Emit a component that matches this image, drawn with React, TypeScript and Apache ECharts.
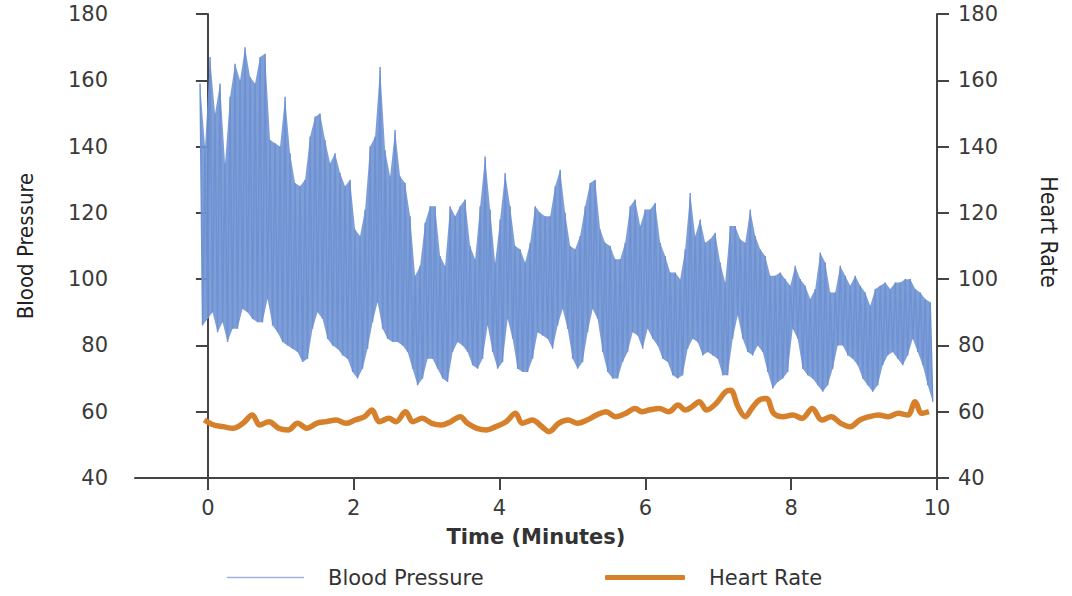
import React, { useEffect, useRef } from "react";
import * as echarts from "echarts";

// x-axis tick labels (minutes)
const xTickValues = [0, 2, 4, 6, 8, 10];

// Blood pressure: sampled every ~4 s, upper (systolic) and lower (diastolic) swing
const bpStart = -0.108;
const bpStep = 0.0686;
const bpHigh = [
  159, 140, 167, 150, 159, 135, 155, 165, 160, 170,
  161, 159, 167, 168, 142, 141, 140, 155, 138, 129,
  128, 130, 143, 149, 150, 142, 135, 138, 132, 128,
  130, 115, 113, 121, 140, 143, 164, 139, 131, 145,
  131, 129, 119, 101, 104, 117, 122, 122, 107, 104,
  122, 119, 122, 124, 110, 106, 122, 137, 121, 105,
  118, 132, 122, 110, 109, 105, 111, 122, 120, 119,
  119, 128, 133, 120, 110, 109, 113, 122, 129, 130,
  115, 111, 110, 106, 106, 111, 122, 124, 116, 121,
  121, 123, 111, 107, 102, 102, 100, 109, 126, 113,
  118, 111, 112, 114, 105, 99, 116, 116, 112, 111,
  121, 113, 109, 107, 101, 101, 102, 100, 98, 104,
  100, 98, 94, 97, 108, 105, 96, 96, 104, 101,
  98, 101, 98, 96, 92, 97, 98, 99, 97, 99,
  99, 100, 100, 97, 96, 94, 93,
];
const bpLow = [
  86, 88, 90, 84, 87, 81, 85, 85, 91, 90,
  88, 87, 87, 94, 86, 84, 81, 80, 79, 78,
  75, 76, 85, 90, 88, 82, 80, 79, 77, 76,
  72, 70, 73, 79, 87, 93, 85, 82, 81, 81,
  80, 78, 73, 68, 70, 76, 76, 73, 70, 69,
  78, 81, 80, 78, 74, 73, 76, 86, 78, 73,
  75, 88, 82, 73, 72, 72, 76, 84, 83, 82,
  79, 86, 91, 85, 76, 73, 75, 84, 91, 88,
  78, 72, 70, 70, 75, 78, 84, 83, 79, 85,
  82, 80, 76, 75, 71, 70, 71, 79, 82, 81,
  77, 78, 77, 76, 71, 71, 82, 89, 82, 78,
  77, 80, 78, 72, 67, 69, 70, 72, 85, 82,
  73, 71, 70, 68, 66, 68, 73, 80, 80, 77,
  76, 74, 70, 68, 66, 68, 74, 77, 78, 76,
  74, 77, 82, 78, 74, 68, 63,
];

// Heart rate
const hrTime = [
  -0.05, 0.08, 0.21, 0.34, 0.48, 0.61, 0.71, 0.84, 0.97, 1.1,
  1.23, 1.36, 1.49, 1.62, 1.76, 1.89, 2.02, 2.15, 2.25, 2.35,
  2.48, 2.58, 2.71, 2.81, 2.94, 3.07, 3.2, 3.33, 3.46, 3.56,
  3.69, 3.82, 3.95, 4.09, 4.22, 4.31, 4.45, 4.58, 4.68, 4.81,
  4.94, 5.07, 5.2, 5.33, 5.46, 5.59, 5.73, 5.86, 5.95, 6.05,
  6.19, 6.32, 6.45, 6.55, 6.64, 6.74, 6.84, 6.97, 7.1, 7.17,
  7.27, 7.37, 7.46, 7.56, 7.66, 7.76, 7.89, 8.02, 8.15, 8.29,
  8.42, 8.55, 8.68, 8.81, 8.94, 9.07, 9.2, 9.33, 9.47, 9.6,
  9.7, 9.79, 9.89,
];
const hrValue = [
  57.5, 56, 55.5, 55, 56.5, 59, 56, 57, 55, 54.5,
  56.5, 55, 56.5, 57, 57.5, 56.5, 57.5, 58.5, 60.5, 57,
  58, 57, 60, 57, 58, 56.5, 56, 57, 58.5, 56.5,
  55, 54.5, 55.5, 57, 59.5, 56.5, 57.5, 55.5, 54, 56.5,
  57.5, 56.5, 57.5, 59, 60, 58.5, 59.5, 61, 60, 60.5,
  61, 60, 62, 60.5, 61.5, 63, 60.5, 62.5, 66, 66.5,
  61.5, 58.5, 61, 63.5, 64, 59.5, 58.5, 59, 58, 61,
  57.5, 58.5, 56.5, 55.5, 57.5, 58.5, 59, 58.5, 59.5, 59,
  63, 59.5, 60,
];

const BP_COLOR = "#6d91d2";
const BP_BAND_COLOR = "#7094d3";
const BP_LEGEND_COLOR = "#9db5df";
const HR_COLOR = "#d6802c";
const AXIS_COLOR = "#444444";
const LABEL_COLOR = "#3a3a3a";
const TICK_FONT = "'DejaVu Sans', sans-serif";
const NARROW_FONT = "'Liberation Sans Narrow', 'DejaVu Sans Condensed', sans-serif";

export default function App() {
  const ref = useRef<HTMLDivElement>(null);

  useEffect(() => {
    if (!ref.current) return;
    const chart = echarts.init(ref.current, null, { renderer: "svg" });

    const bpTimes = bpHigh.map((_, i) => bpStart + i * bpStep);
    const bpZigzag: number[][] = [];
    bpHigh.forEach((h, i) => {
      bpZigzag.push([bpTimes[i], h]);
      bpZigzag.push([bpTimes[i] + bpStep / 2, bpLow[i]]);
    });
    const bpBandData = bpTimes.map((t, i) => [t, bpLow[i], bpHigh[i]]);
    const hrData = hrTime.map((t, i) => [t, hrValue[i]]);

    const yAxisCommon = {
      type: "value" as const,
      min: 40,
      max: 180,
      interval: 20,
      splitLine: { show: false },
      axisLine: { show: true, lineStyle: { color: AXIS_COLOR, width: 2 } },
      axisTick: { show: true, length: 12, lineStyle: { color: AXIS_COLOR, width: 2 } },
      nameLocation: "middle" as const,
    };

    chart.setOption({
      animation: false,
      backgroundColor: "#ffffff",
      grid: { left: 135, right: 135, top: 14, bottom: 118, containLabel: false },
      legend: [
        {
          left: 222,
          top: 562,
          icon: "rect",
          itemWidth: 77,
          itemHeight: 1.5,
          data: [{ name: "Blood Pressure", itemStyle: { color: BP_LEGEND_COLOR } }],
          textStyle: {
            fontFamily: TICK_FONT,
            fontSize: 21,
            color: "#333",
            padding: [0, 0, 0, 19],
          },
        },
        {
          left: 600,
          top: 562,
          icon: "roundRect",
          itemWidth: 80,
          itemHeight: 5,
          data: [{ name: "Heart Rate", itemStyle: { color: HR_COLOR } }],
          textStyle: {
            fontFamily: TICK_FONT,
            fontSize: 21,
            color: "#333",
            padding: [0, 0, 0, 19],
          },
        },
      ],
      xAxis: {
        type: "value",
        min: -1,
        max: 10,
        z: 10,
        splitLine: { show: false },
        axisLine: { show: true, onZero: false, lineStyle: { color: AXIS_COLOR, width: 2 } },
        axisTick: {
          show: true,
          length: 12,
          customValues: xTickValues,
          lineStyle: { color: AXIS_COLOR, width: 2 },
        },
        axisLabel: {
          customValues: xTickValues,
          margin: 19,
          fontSize: 21,
          fontFamily: TICK_FONT,
          color: LABEL_COLOR,
        },
        name: "Time (Minutes)",
        nameLocation: "middle",
        nameGap: 48,
        nameTextStyle: { fontSize: 21, fontWeight: "bold", fontFamily: TICK_FONT, color: "#333" },
      },
      yAxis: [
        {
          ...yAxisCommon,
          position: "left",
          name: "Blood Pressure",
          nameGap: 99,
          nameRotate: 90,
          nameTextStyle: { fontSize: 22, fontFamily: NARROW_FONT, color: "#222" },
          axisLabel: { margin: 27, fontSize: 21, fontFamily: TICK_FONT, color: LABEL_COLOR },
        },
        {
          ...yAxisCommon,
          position: "right",
          name: "Heart Rate",
          nameGap: 100,
          nameRotate: -90,
          nameTextStyle: {
            fontSize: 23,
            fontFamily: NARROW_FONT,
            color: "#222",
            padding: [0, 28, 0, 0],
          },
          axisLabel: { margin: 21, fontSize: 21, fontFamily: TICK_FONT, color: LABEL_COLOR },
        },
      ],
      series: [
        {
          name: "bpBand",
          type: "custom",
          yAxisIndex: 0,
          data: bpBandData,
          encode: { x: 0, y: [1, 2] },
          silent: true,
          z: 1,
          renderItem: (params: any, api: any) => {
            if (params.dataIndex !== 0) return null;
            const upper = bpBandData.map((d) => api.coord([d[0], d[2]]));
            const lower = bpBandData.map((d) => api.coord([d[0] + bpStep / 2, d[1]])).reverse();
            return {
              type: "polygon",
              shape: { points: upper.concat(lower) },
              style: { fill: BP_BAND_COLOR, opacity: 0.9 },
            };
          },
        },
        {
          name: "Blood Pressure",
          type: "line",
          yAxisIndex: 0,
          data: bpZigzag,
          showSymbol: false,
          symbol: "none",
          lineStyle: { color: BP_COLOR, width: 1.4 },
          itemStyle: { color: BP_COLOR },
          z: 2,
        },
        {
          name: "Heart Rate",
          type: "line",
          yAxisIndex: 1,
          data: hrData,
          showSymbol: false,
          symbol: "none",
          smooth: 0.35,
          lineStyle: { color: HR_COLOR, width: 5.5 },
          itemStyle: { color: HR_COLOR },
          z: 3,
        },
      ],
    });

    return () => {
      chart.dispose();
    };
  }, []);

  return (
    <div
      ref={ref}
      style={{ position: "fixed", left: 0, top: 0, width: 1072, height: 596, background: "#fff" }}
    />
  );
}
